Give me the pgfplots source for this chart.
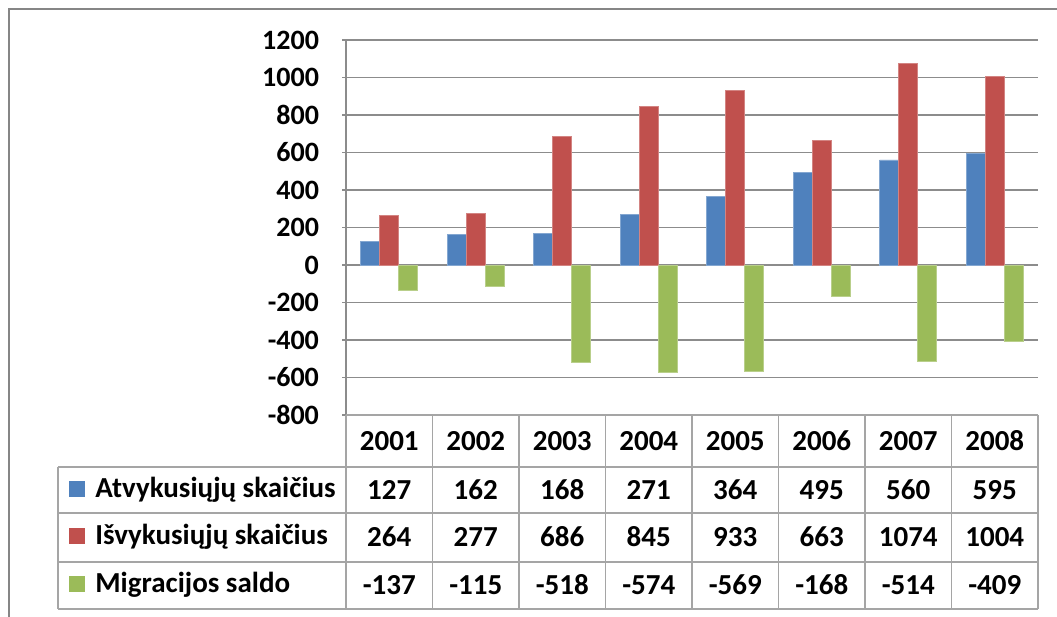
\documentclass[border=0pt]{standalone}
\usepackage{fontspec}
\setmainfont{Carlito}
\usepackage{pgfplots}
\pgfplotsset{compat=1.18}
\definecolor{cblue}{RGB}{79,129,189}
\definecolor{cred}{RGB}{192,80,77}
\definecolor{cgreen}{RGB}{155,187,89}
\definecolor{gridc}{RGB}{140,140,140}
\definecolor{tabc}{RGB}{165,165,165}
\definecolor{framec}{RGB}{134,134,134}
\begin{document}
\begin{tikzpicture}[x=0.5pt,y=0.5pt,font=\fontsize{14.5}{16}\selectfont\bfseries]
\begin{axis}[at={(173pt,101pt)}, anchor=south west, scale only axis,
  width=346pt, height=187.5pt,
  xmin=0.5, xmax=8.5, ymin=-800, ymax=1200,
  ytick={-800,-600,...,1200},
  yticklabels={-800,-600,-400,-200,0,200,400,600,800,1000,1200},
  xtick=\empty,
  axis x line=none, axis y line*=left,
  y axis line style={gridc, line width=0.75pt},
  ymajorgrids, grid style={gridc, line width=0.75pt},
  tick align=outside, major tick length=2pt, tick style={gridc, line width=0.75pt},
  yticklabel style={font=\fontsize{14}{16}\selectfont\bfseries, xshift=-8pt},
  ybar, bar width=0.22,
  clip=false]
\addplot[fill=cblue, draw=cblue!70!white, line width=0.3pt, bar shift=-0.22] coordinates {(1,127) (2,162) (3,168) (4,271) (5,364) (6,495) (7,560) (8,595)};
\addplot[fill=cred, draw=cred!70!white, line width=0.3pt, bar shift=0] coordinates {(1,264) (2,277) (3,686) (4,845) (5,933) (6,663) (7,1074) (8,1004)};
\addplot[fill=cgreen, draw=cgreen!70!white, line width=0.3pt, bar shift=0.22] coordinates {(1,-137) (2,-115) (3,-518) (4,-574) (5,-569) (6,-168) (7,-514) (8,-409)};
\end{axis}
\begin{scope}[shift={(0,617)}, y=-0.5pt]
% data table
\begin{scope}[tabc, line width=0.75pt]
\draw (346,415) -- (1038,415);
\foreach \yy in {467,513,562,609} \draw (58,\yy) -- (1038,\yy);
\draw (58,467) -- (58,609);
\foreach \k in {0,...,8} \draw ({346+86.5*\k},415) -- ({346+86.5*\k},609);
\end{scope}
\foreach \yr [count=\k] in {2001,2002,2003,2004,2005,2006,2007,2008}
  \node at ({346+86.5*(\k-0.5)},441) {\yr};
\foreach \v [count=\k] in {127,162,168,271,364,495,560,595}
  \node at ({346+86.5*(\k-0.5)},490) {\v};
\foreach \v [count=\k] in {264,277,686,845,933,663,1074,1004}
  \node at ({346+86.5*(\k-0.5)},537) {\v};
\foreach \v [count=\k] in {-137,-115,-518,-574,-569,-168,-514,-409}
  \node at ({346+86.5*(\k-0.5)},585) {\v};
\fill[cblue] (69,481) rectangle (85,497);
\fill[cred] (69,528) rectangle (85,544);
\fill[cgreen] (69,576) rectangle (85,592);
\node[anchor=west, inner sep=0pt] at (95,490) {Atvykusiųjų skaičius};
\node[anchor=west, inner sep=0pt] at (95,537) {Išvykusiųjų skaičius};
\node[anchor=west, inner sep=0pt] at (95,585) {Migracijos saldo};
% outer frame
\draw[framec, line width=1.2pt] (9,700) -- (9,9) -- (1100,9);
\end{scope}
\pgfresetboundingbox
\useasboundingbox (0,0) rectangle (1057,617);
\end{tikzpicture}
\end{document}
